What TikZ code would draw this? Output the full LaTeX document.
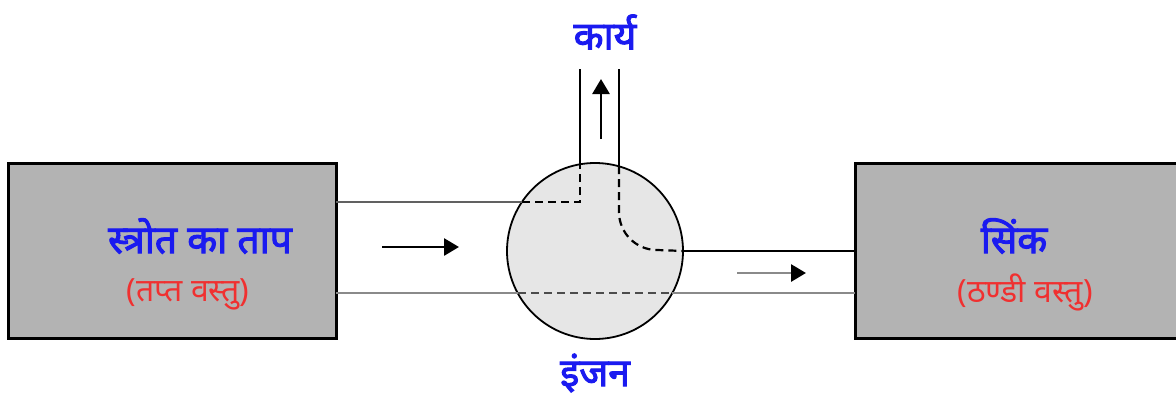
\documentclass[tikz,border=0pt]{standalone}
\usepackage{fontspec}
\newfontfamily\hindi[Script=Devanagari]{Noto Sans}
\newfontfamily\hindibold[Script=Devanagari,FakeBold=2.5]{Noto Sans}
\usetikzlibrary{calc,positioning,arrows.meta}
\definecolor{BoxGray}{HTML}{B3B3B3}
\definecolor{EngGray}{HTML}{E6E6E6}
\definecolor{LabelBlue}{HTML}{1A1AF0}
\definecolor{LabelRed}{HTML}{F03030}
\definecolor{PipeGray}{HTML}{8A8A8A}
\tikzset{
  bodybox/.style={draw=black, line width=3pt, fill=BoxGray, minimum width=328pt, minimum height=175pt},
  bluelabel/.style={text=LabelBlue, font=\hindibold\fontsize{39}{42}\selectfont, inner sep=0pt},
  redlabel/.style={text=LabelRed, font=\hindi\fontsize{32}{35}\selectfont, inner sep=0pt},
  pipe/.style={line width=2.8pt},
  inpipe/.style={line width=2.2pt, dash pattern=on 8pt off 5pt},
  flow/.style={line width=2.8pt, -{Triangle[length=15pt,width=17pt,color=black]}}
}
\begin{document}
\begin{tikzpicture}[x=1pt,y=-1pt]
      \useasboundingbox[fill=white] (0,0) rectangle (1176,397);
      % hot source and sink
      \node[bodybox] (source) at (172,250.5) {};
      \node[bodybox, minimum width=340pt] (sink) at (1025,250.5) {};
      \node[bluelabel] (srclabel) at (200,236) {स्त्रोत का ताप};
      \node[redlabel] (srcsub) at (188,294) {(तप्त वस्तु)};
      \node[bluelabel] (sinklabel) at (1014,236) {सिंक};
      \node[redlabel] (sinksub) at (1025,292) {(ठण्डी वस्तु)};
      % engine
      \node[circle, draw=black, line width=1.8pt, fill=EngGray, minimum size=176pt, inner sep=0pt] (engine) at (595,251) {};
      \node[bluelabel] (englabel) at (595,373) {इंजन};
      \node[bluelabel] (worklabel) at (605,32) {कार्य};
      % pipe ends
      \coordinate (inA) at (336,202);
      \coordinate (inB) at (336,293);
      \coordinate (wL) at (580,69);
      \coordinate (wR) at (619,69);
      \coordinate (outA) at (855,251);
      \coordinate (outB) at (855,293);
      % where the pipes meet the engine
      \coordinate (eA) at (522,202);
      \coordinate (eB) at (518,293);
      \coordinate (eC) at (672,293);
      \coordinate (eL) at (580,164);
      \coordinate (eR) at (619,166);
      % inflow pipe
      \draw[pipe, draw=PipeGray!70!black] (inA) -- (eA);
      \draw[pipe, draw=PipeGray] (inB) -- (eB);
      \draw[inpipe] (eA) -- (580,202) -- (eL);
      \draw[inpipe, draw=black!70] (eB) -- (eC);
      % work pipe
      \draw[pipe] (wL) -- (eL);
      \draw[pipe] (wR) -- (eR);
      \draw[inpipe] (eR) -- (619,212) arc[start angle=180, end angle=270, radius=38pt] -- (engine.east);
      % outflow pipe
      \draw[pipe] (engine.east) -- (outA);
      \draw[pipe, draw=PipeGray] (eC) -- (outB);
      % arrows
      \draw[flow] (382,247) -- (459,247);
      \draw[flow, draw=PipeGray] (737,273) -- (806,273);
      \draw[flow] (601,139) -- (601,79);
    \end{tikzpicture}
\end{document}
